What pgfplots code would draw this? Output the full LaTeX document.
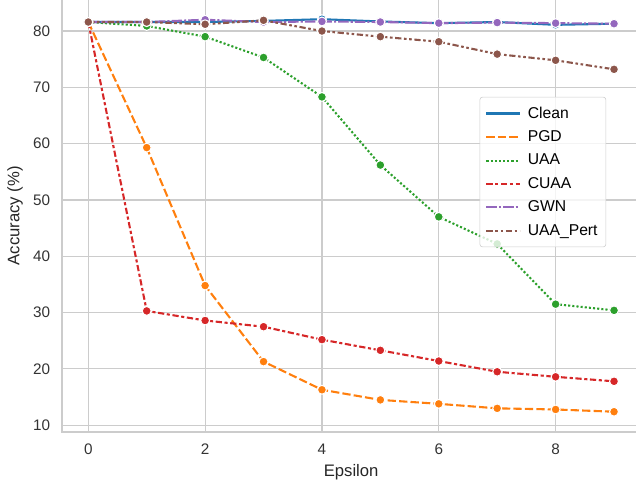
\documentclass[border=0pt]{standalone}
\usepackage{pgfplots}
\pgfplotsset{compat=1.18}
\usepackage{pgfplotstable}
\usepackage{fontspec}
\setmainfont{Liberation Sans}
\usetikzlibrary{calc}

\definecolor{cblue}{HTML}{1F77B4}
\definecolor{corange}{HTML}{FF7F0E}
\definecolor{cgreen}{HTML}{2CA02C}
\definecolor{cred}{HTML}{D62728}
\definecolor{cpurple}{HTML}{9467BD}
\definecolor{cbrown}{HTML}{8C564B}
\definecolor{gridgray}{HTML}{CCCCCC}

% accuracy (%) per epsilon
\pgfplotstableread{
eps clean pgd  uaa  cuaa gwn  pert
0   81.6  81.6 81.6 81.6 81.6 81.6
1   81.6  59.3 80.9 30.3 81.6 81.6
2   81.6  34.8 79.0 28.6 82.0 81.2
3   81.8  21.3 75.3 27.5 81.6 81.9
4   82.1  16.3 68.3 25.2 81.7 80.0
5   81.7  14.5 56.2 23.3 81.6 79.0
6   81.4  13.8 47.0 21.4 81.4 78.1
7   81.6  13.0 42.2 19.5 81.5 75.9
8   81.1  12.8 31.5 18.6 81.4 74.8
9   81.3  12.4 30.4 17.8 81.3 73.2
}\acc

\begin{document}
\begin{tikzpicture}
\begin{axis}[
    name=ax,
    scale only axis,
    width=416.4pt, height=311.4pt,
    xmin=-0.45, xmax=9.45, ymin=8.8, ymax=85.6,
    xtick={0,2,...,8}, ytick={10,20,...,80},
    grid=major,
    major grid style={gridgray, line width=0.8pt},
    axis line style={gridgray, line width=1pt},
    major tick length=0pt,
    tick label style={font=\fontsize{11}{13}\selectfont, color=black!80},
    /pgf/number format/assume math mode=true,
    yticklabel style={xshift=-5pt},
    xticklabel style={yshift=-5pt},
    label style={font=\fontsize{12}{14}\selectfont, color=black!85},
    xlabel={Epsilon},
    ylabel={Accuracy (\%)},
    xlabel style={at={(axis description cs:0.5,-0.092)}, anchor=center},
    ylabel style={at={(axis description cs:-0.081,0.5)}, anchor=center},
    legend style={at={(0.941,0.775)}, anchor=north east,
        draw=gridgray, rounded corners=2pt, fill=white, fill opacity=0.8,
        text opacity=1, font=\fontsize{11.3}{13}\selectfont,
        row sep=3.5pt, inner xsep=4pt, inner ysep=5pt,
        /tikz/every odd column/.append style={column sep=3pt}},
    legend cell align=left,
    legend image code/.code={\draw[mark=none,#1] (0pt,0pt) -- (24pt,0pt);},
    every axis plot/.append style={line width=1.5pt, mark=*, mark size=3.2pt},
]
\addplot[cblue, solid, mark options={solid, fill=cblue, draw=white, line width=0.75pt}]
    table[x=eps, y=clean] {\acc};
\addlegendentry{Clean}
\addplot[corange, dash pattern=on 6pt off 2.25pt, mark options={solid, fill=corange, draw=white, line width=0.75pt}]
    table[x=eps, y=pgd] {\acc};
\addlegendentry{PGD}
\addplot[cgreen, dash pattern=on 1.5pt off 1.5pt, mark options={solid, fill=cgreen, draw=white, line width=0.75pt}]
    table[x=eps, y=uaa] {\acc};
\addlegendentry{UAA}
\addplot[cred, dash pattern=on 4.5pt off 1.875pt on 2.25pt off 1.875pt, mark options={solid, fill=cred, draw=white, line width=0.75pt}]
    table[x=eps, y=cuaa] {\acc};
\addlegendentry{CUAA}
\addplot[cpurple, dash pattern=on 7.5pt off 1.5pt on 1.5pt off 1.5pt, mark options={solid, fill=cpurple, draw=white, line width=0.75pt}]
    table[x=eps, y=gwn] {\acc};
\addlegendentry{GWN}
\addplot[cbrown, dash pattern=on 4.5pt off 1.875pt on 1.875pt off 1.875pt on 1.875pt off 1.875pt, mark options={solid, fill=cbrown, draw=white, line width=0.75pt}]
    table[x=eps, y=pert] {\acc};
\addlegendentry{UAA\_Pert}
\end{axis}
\pgfresetboundingbox
\path[use as bounding box] ($(ax.south west)+(-44.64pt,-39.6pt)$) rectangle ($(ax.south west)+(413.28pt,311.04pt)$);
\end{tikzpicture}
\end{document}
